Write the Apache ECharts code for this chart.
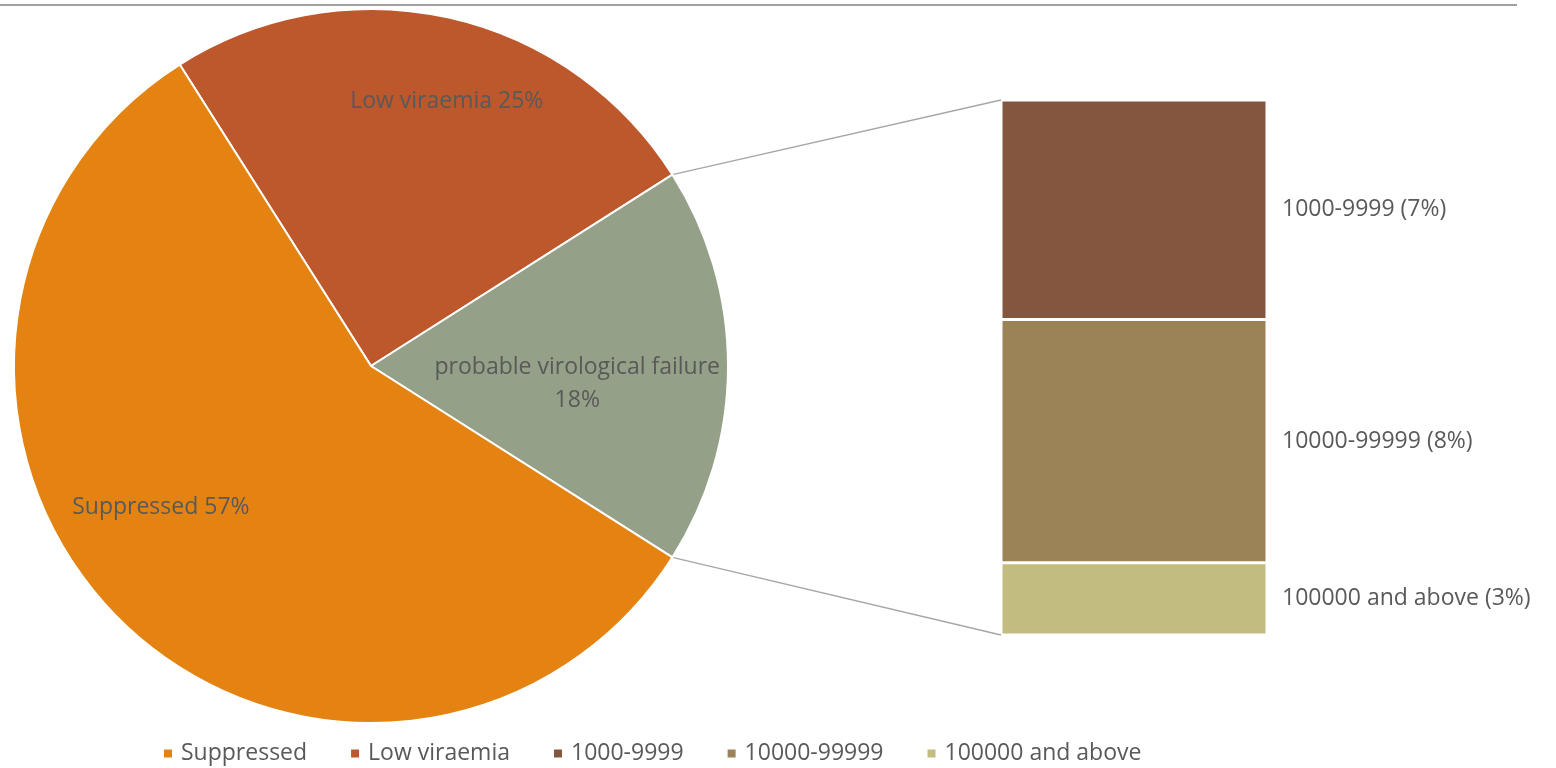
<!DOCTYPE html>
<html><head><meta charset="utf-8">
<script src="https://cdn.jsdelivr.net/npm/echarts@6/dist/echarts.min.js"></script>
<style>html,body{margin:0;padding:0;background:#fff}#c{width:1556px;height:768px}</style>
</head><body><div id="c"></div>
<script>
// Pie data (order clockwise from start)
const pieNames = ['Low viraemia', 'probable virological failure', 'Suppressed'];
const pieValues = [25, 18, 57];
const pieLabels = ['Low viraemia 25%', 'probable virological failure\n18%', 'Suppressed 57%'];
const pieColors = ['#BD582C', '#94A088', '#E48312'];
// Breakdown bar (bottom to top)
const barNames = ['100000 and above', '10000-99999', '1000-9999'];
const barValues = [2.4, 8.1, 7.3];
const barLabels = ['100000 and above (3%)', '10000-99999 (8%)', '1000-9999 (7%)'];
const barColors = ['#C2BC81', '#9B8357', '#845640'];
const legendNames = ['Suppressed', 'Low viraemia', '1000-9999', '10000-99999', '100000 and above'];

const FONT = '"Open Sans", sans-serif';
const FS = 23;
const TXT = '#595959';
const cx = 371, cy = 366, R = 357;
const total = pieValues.reduce((a, b) => a + b, 0);
const halfAngle = pieValues[1] / total * 180; // failure slice centred on 3 o'clock
const startAngle = halfAngle + pieValues[0] / total * 360;

// label placement (fraction of radius, angle deg)
const labelPolar = [[0.77, 74], [0.58, -5], [0.71, 214]];

const chart = echarts.init(document.getElementById('c'), null, {renderer: 'canvas'});
const barTotal = barValues.reduce((a, b) => a + b, 0);
const gridTop = 100, gridH = 535, gridLeft = 1001, gridW = 266;

const option = {
  animation: false,
  textStyle: {fontFamily: FONT},
  legend: {
    data: legendNames, top: 737, left: 157, icon: 'rect', itemWidth: 10, itemHeight: 10, itemGap: 42,
    textStyle: {fontFamily: FONT, fontSize: FS, color: TXT, padding: [0, 0, 0, 3]}
  },
  grid: {left: gridLeft, top: gridTop, width: gridW, height: gridH},
  xAxis: {type: 'category', data: ['x'], show: false},
  yAxis: {type: 'value', min: 0, max: barTotal, show: false},
  series: [
    {
      type: 'pie', center: [cx, cy], radius: R, startAngle: startAngle, clockwise: true,
      data: pieNames.map((n, i) => ({name: n, value: pieValues[i], itemStyle: {color: pieColors[i]}})),
      itemStyle: {borderColor: '#fff', borderWidth: 2},
      label: {show: true, position: 'inside', formatter: p => pieLabels[p.dataIndex],
        fontFamily: FONT, fontSize: FS, color: TXT, lineHeight: 33, align: 'center'},
      labelLayout: p => {
        const [f, a] = labelPolar[p.dataIndex];
        const rad = a * Math.PI / 180;
        return {x: cx + f * R * Math.cos(rad), y: cy - f * R * Math.sin(rad), align: 'center', verticalAlign: 'middle'};
      },
      emphasis: {disabled: true}
    },
    ...barNames.map((n, i) => ({
      type: 'bar', name: n, stack: 's', data: [barValues[i]], barWidth: '100%',
      itemStyle: {color: barColors[i], borderColor: '#fff', borderWidth: 1.5},
      label: {show: true, position: 'right', distance: 15, formatter: barLabels[i],
        fontFamily: FONT, fontSize: FS, color: TXT},
      emphasis: {disabled: true}
    }))
  ]
};
chart.setOption(option);

// connector lines from failure slice edges to the bar corners
const rad = halfAngle * Math.PI / 180;
const p1 = [cx + R * Math.cos(rad), cy - R * Math.sin(rad)];
const p2 = [cx + R * Math.cos(rad), cy + R * Math.sin(rad)];
const topPx = chart.convertToPixel({gridIndex: 0}, ['x', barTotal]);
const botPx = chart.convertToPixel({gridIndex: 0}, ['x', 0]);
chart.setOption({
  graphic: [
    {type: 'line', shape: {x1: 0, y1: 5, x2: 1517, y2: 5}, style: {stroke: '#808080', lineWidth: 1.5}},
    {type: 'line', shape: {x1: p1[0], y1: p1[1], x2: gridLeft, y2: topPx[1]}, style: {stroke: '#A6A6A6', lineWidth: 1.3}},
    {type: 'line', shape: {x1: p2[0], y1: p2[1], x2: gridLeft, y2: botPx[1]}, style: {stroke: '#A6A6A6', lineWidth: 1.3}}
  ]
});
</script></body></html>
